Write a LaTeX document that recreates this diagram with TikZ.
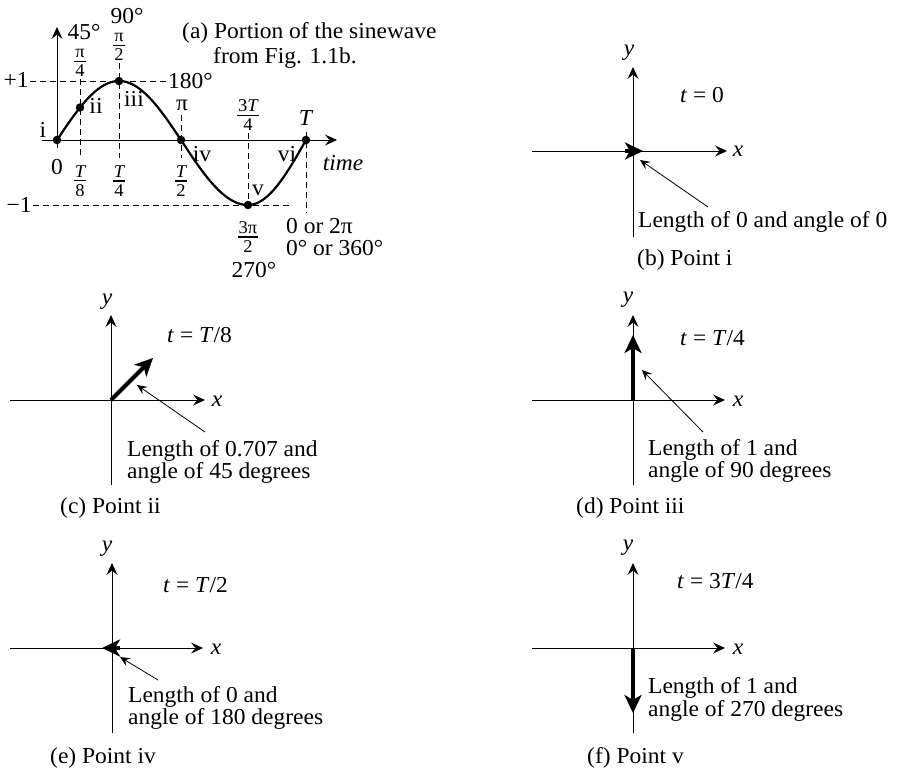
\documentclass[tikz,border=0pt]{standalone}
\usepackage{fontspec}
\setmainfont{Liberation Serif}[FakeStretch=1.03]
\usetikzlibrary{arrows.meta}
\newcommand\myfr[2]{\vbox{\halign{\hfil\kern1pt##\kern1pt\hfil\cr #1\cr\noalign{\kern3.2pt\hrule height 1.2pt\kern3.2pt}#2\cr}}}
\begin{document}
\begin{tikzpicture}[x=1pt,y=-1pt,
  font=\fontsize{22.8}{23}\selectfont,
  every node/.style={inner sep=0pt},
  frc/.style={font=\fontsize{18}{18}\selectfont},
  axarrow/.style={line width=0.9pt,-{Stealth[length=12pt,width=11pt,inset=4.5pt]}},
  guide/.style={line width=0.8pt,dash pattern=on 6pt off 4pt},
  wave/.style={line width=2.2pt},
  pt/.style={circle,fill,minimum size=8.5pt},
  vec/.style={line width=4pt,-{Stealth[length=18pt,width=17pt,inset=5pt]}},
  callout/.style={line width=0.8pt,-{Stealth[length=10pt,width=9pt,inset=4pt]}}]
\useasboundingbox (0,0) rectangle (902,769);

% ---------------- panel (a) ----------------
\coordinate (aXs) at (42,140); \coordinate (aXe) at (337,140);
\coordinate (aYs) at (57,148); \coordinate (aYe) at (57,27);
\draw[axarrow] (aXs) -- (aXe);
\draw[axarrow] (aYs) -- (aYe);

\coordinate (g1a) at (30,81);  \coordinate (g1b) at (166,81);
\coordinate (g2a) at (33,205); \coordinate (g2b) at (292,205);
\coordinate (g3a) at (80,79);  \coordinate (g3b) at (80,158);
\coordinate (g4a) at (119,63); \coordinate (g4b) at (119,158);
\coordinate (g5a) at (181,115);\coordinate (g5b) at (181,158);
\coordinate (g6a) at (248,133);\coordinate (g6b) at (248,212);
\coordinate (g7a) at (306,132);\coordinate (g7b) at (306,213);
\foreach \g in {1,...,7} \draw[guide] (g\g a) -- (g\g b);

\draw[wave] plot[domain=0:90,samples=30,variable=\t] ({57+62*\t/90},{140-59*sin(\t)})
  -- plot[domain=90:180,samples=30,variable=\t] ({119+62*(\t-90)/90},{140-59*sin(\t)})
  -- plot[domain=180:270,samples=30,variable=\t] ({181+67*(\t-180)/90},{140-65*sin(\t)})
  -- plot[domain=270:360,samples=30,variable=\t] ({248+58*(\t-270)/90},{140-65*sin(\t)});

\node[pt] (p1) at (57,140) {};
\node[pt] (p2) at (80,107.5) {};
\node[pt] (p3) at (119,81) {};
\node[pt] (p4) at (181,140) {};
\node[pt] (p5) at (248,205) {};
\node[pt] (p6) at (306,140) {};

\node (lp1) at (16,80) {+1};
\node (lm1) at (19,205) {\char"2212 1};
\node (l45) at (84,32) {45°};
\node (l90) at (127,16) {90°};
\node[anchor=west] (l180) at (168,81) {180°};
\node (lpi) at (182,105) {π};
\node (li) at (43,130) {i};
\node (lii) at (96,106) {ii};
\node (liii) at (134,99) {iii};
\node (liv) at (202,154) {iv};
\node (lv) at (258,190) {v};
\node (lvi) at (287,154) {vi};
\node (l0) at (57,167) {0};
\node (lT) at (306,118) {\textit{T}};
\node (ltime) at (343,163) {\textit{time}};
\node[anchor=west] (l2pi) at (286,226) {0 or 2π};
\node[anchor=west] (l360) at (286,248) {0° or 360°};
\node (l270) at (254,270) {270°};

\node[frc] (fpi4) at (80,63) {\myfr{π}{4}};
\node[frc] (fpi2) at (119,47) {\myfr{π}{2}};
\node[frc] (fT8) at (80,181) {\myfr{\itshape T}{8}};
\node[frc] (fT4) at (119,181) {\myfr{\itshape T}{4}};
\node[frc] (fT2) at (181,181) {\myfr{\itshape T}{2}};
\node[frc] (f3T4) at (248,115) {\myfr{3\itshape T}{4}};
\node[frc] (f3pi2) at (248,237) {\myfr{3π}{2}};

\node[anchor=base west] (capa1) at (182,38) {(a) Portion of the sinewave};
\node[anchor=base west] (capa2) at (213,63) {from Fig. 1.1b.};

% ---------------- panel (b) ----------------
\coordinate (bYs) at (633,237); \coordinate (bYe) at (633,67);
\coordinate (bXs) at (532,151); \coordinate (bXe) at (727,151);
\draw[axarrow] (bYs) -- (bYe);
\draw[axarrow] (bXs) -- (bXe);
\coordinate (bVs) at (625,151); \coordinate (bVe) at (643,151);
\draw[vec] (bVs) -- (bVe);
\node (by) at (629,53) {\textit{y}};
\node (bx) at (738,151) {\textit{x}};
\node[anchor=base west] (bt) at (680,102) {\textit{t} = 0};
\node[anchor=base west] (btx) at (638,227) {Length of 0 and angle of 0};
\coordinate (bCs) at (708,207); \coordinate (bCe) at (640,160);
\draw[callout] (bCs) -- (bCe);
\node[anchor=base west] (bcap) at (637,265) {(b) Point i};

% ---------------- panel (c) ----------------
\coordinate (cYs) at (111,485); \coordinate (cYe) at (111,315);
\coordinate (cXs) at (10,400);  \coordinate (cXe) at (205,400);
\draw[axarrow] (cYs) -- (cYe);
\draw[axarrow] (cXs) -- (cXe);
\coordinate (cVs) at (111,400); \coordinate (cVe) at (153,358);
\draw[vec] (cVs) -- (cVe);
\node (cy) at (107,302) {\textit{y}};
\node (cx) at (217,401) {\textit{x}};
\node[anchor=base west] (ct) at (167,342) {\textit{t} = \textit{T}/8};
\node[anchor=base west] (ctx1) at (127,456) {Length of 0.707 and};
\node[anchor=base west] (ctx2) at (127,478) {angle of 45 degrees};
\coordinate (cCs) at (205,432); \coordinate (cCe) at (137,385);
\draw[callout] (cCs) -- (cCe);
\node[anchor=base west] (ccap) at (60,513) {(c) Point ii};

% ---------------- panel (d) ----------------
\coordinate (dYs) at (633,485); \coordinate (dYe) at (633,315);
\coordinate (dXs) at (532,400); \coordinate (dXe) at (725,400);
\draw[axarrow] (dYs) -- (dYe);
\draw[axarrow] (dXs) -- (dXe);
\coordinate (dVs) at (633,400); \coordinate (dVe) at (633,335);
\draw[vec] (dVs) -- (dVe);
\node (dy) at (628,300) {\textit{y}};
\node (dx) at (738,401) {\textit{x}};
\node[anchor=base west] (dt) at (680,345) {\textit{t} = \textit{T}/4};
\node[anchor=base west] (dtx1) at (648,455) {Length of 1 and};
\node[anchor=base west] (dtx2) at (648,477) {angle of 90 degrees};
\coordinate (dCs) at (703,432); \coordinate (dCe) at (642,370);
\draw[callout] (dCs) -- (dCe);
\node[anchor=base west] (dcap) at (576,513) {(d) Point iii};

% ---------------- panel (e) ----------------
\coordinate (eYs) at (112,733); \coordinate (eYe) at (112,563);
\coordinate (eXs) at (10,648);  \coordinate (eXe) at (203,648);
\draw[axarrow] (eYs) -- (eYe);
\draw[axarrow] (eXs) -- (eXe);
\coordinate (eVs) at (120,648); \coordinate (eVe) at (102,648);
\draw[vec] (eVs) -- (eVe);
\node (ey) at (107,549) {\textit{y}};
\node (ex) at (216,649) {\textit{x}};
\node[anchor=base west] (et) at (163,592) {\textit{t} = \textit{T}/2};
\node[anchor=base west] (etx1) at (128,702) {Length of 0 and};
\node[anchor=base west] (etx2) at (128,724) {angle of 180 degrees};
\coordinate (eCs) at (158,680); \coordinate (eCe) at (120,657);
\draw[callout] (eCs) -- (eCe);
\node[anchor=base west] (ecap) at (50,763) {(e) Point iv};

% ---------------- panel (f) ----------------
\coordinate (fYs) at (633,733); \coordinate (fYe) at (633,563);
\coordinate (fXs) at (532,648); \coordinate (fXe) at (725,648);
\draw[axarrow] (fYs) -- (fYe);
\draw[axarrow] (fXs) -- (fXe);
\coordinate (fVs) at (633,648); \coordinate (fVe) at (633,713);
\draw[vec] (fVs) -- (fVe);
\node (fy) at (628,548) {\textit{y}};
\node (fx) at (738,649) {\textit{x}};
\node[anchor=base west] (ft) at (677,588) {\textit{t} = 3\textit{T}/4};
\node[anchor=base west] (ftx1) at (648,693) {Length of 1 and};
\node[anchor=base west] (ftx2) at (648,716) {angle of 270 degrees};
\node[anchor=base west] (fcap) at (587,763) {(f) Point v};
\end{tikzpicture}
\end{document}
